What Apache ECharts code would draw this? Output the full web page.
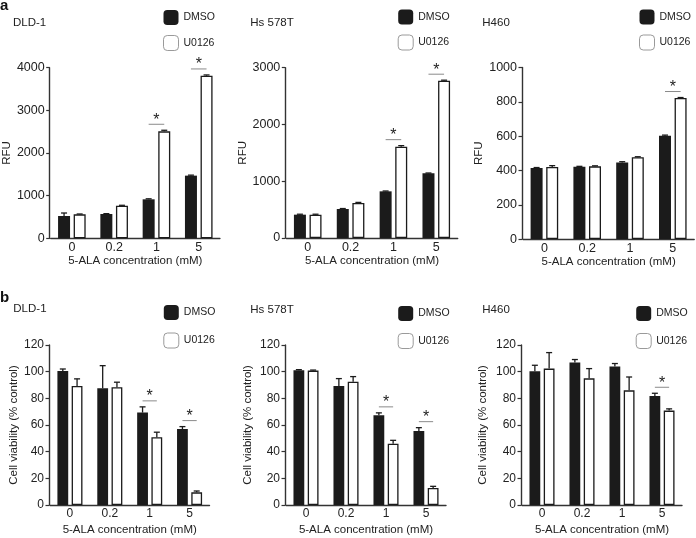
<!DOCTYPE html>
<html>
<head>
<meta charset="utf-8">
<script src="https://cdn.jsdelivr.net/npm/echarts@6/dist/echarts.min.js"></script>
<style>html,body{margin:0;padding:0;background:#fff}#c{width:696px;height:538px}</style>
</head>
<body>
<div id="c"></div>
<script>
// ---------- data ----------
const categories = ['0', '0.2', '1', '5'];
const seriesNames = ['DMSO', 'U0126'];
const cellLines = ['DLD-1', 'Hs 578T', 'H460'];

// panel a: RFU
const rfuDLD1Dmso = [523, 570, 914, 1469];
const rfuDLD1DmsoErr = [70, 8, 12, 12];
const rfuDLD1U0126 = [562, 766, 2508, 3812];
const rfuDLD1U0126Err = [8, 8, 25, 18];
const rfuHsDmso = [411, 511, 822, 1139];
const rfuHsDmsoErr = [8, 8, 6, 6];
const rfuHsU0126 = [411, 617, 1609, 2772];
const rfuHsU0126Err = [8, 10, 18, 8];
const rfuH460Dmso = [414, 422, 447, 602];
const rfuH460DmsoErr = [3, 2, 4, 4];
const rfuH460U0126 = [420, 424, 477, 822];
const rfuH460U0126Err = [8, 3, 3, 3];

// panel b: cell viability (% control)
const viaDLD1Dmso = [100.5, 87.5, 69.3, 57];
const viaDLD1DmsoErr = [1.5, 17, 4.3, 1.8];
const viaDLD1U0126 = [89.3, 88.3, 50.8, 9.5];
const viaDLD1U0126Err = [5.3, 3.8, 3.8, 1];
const viaHsDmso = [101, 89.3, 67.3, 55.5];
const viaHsDmsoErr = [0.5, 5.5, 1.8, 2.5];
const viaHsU0126 = [100.8, 92.5, 46, 12.8];
const viaHsU0126Err = [0.4, 3.8, 2.5, 1.2];
const viaH460Dmso = [100.3, 106.8, 103.8, 81.8];
const viaH460DmsoErr = [4.5, 2.3, 2.3, 2];
const viaH460U0126 = [102.3, 95, 86, 70.8];
const viaH460U0126Err = [12, 7.3, 10, 1.3];

// significant comparisons (category indices)
const sigDLD1A = [2, 3], sigHsA = [2, 3], sigH460A = [3];
const sigDLD1B = [2, 3], sigHsB = [2, 3], sigH460B = [3];

// axis ticks
const rfuTicksDLD1 = { max: 4000, interval: 1000 };
const rfuTicksHs = { max: 3000, interval: 1000 };
const rfuTicksH460 = { max: 1000, interval: 200 };
const viaTicks = { max: 120, interval: 20 };

// ---------- layout ----------
const FONT = '"Liberation Sans", Arial, Helvetica, sans-serif';
const TXT = '#222';
const BAR = '#1b1b1b';

const panels = [
  { name: cellLines[0], d: rfuDLD1Dmso, de: rfuDLD1DmsoErr, u: rfuDLD1U0126, ue: rfuDLD1U0126Err, sig: sigDLD1A, ticks: rfuTicksDLD1, yName: 'RFU', yNameGap: 36,
    grid: { left: 48.3, top: 67.7, width: 171.6, height: 170.6 }, legend: [163, 10], legendGap: 10, title: [13, 16.5], row: 0 },
  { name: cellLines[1], d: rfuHsDmso, de: rfuHsDmsoErr, u: rfuHsU0126, ue: rfuHsU0126Err, sig: sigHsA, ticks: rfuTicksHs, yName: 'RFU', yNameGap: 36,
    grid: { left: 286.3, top: 67.7, width: 171.4, height: 170.3 }, legend: [397.7, 9.5], legendGap: 10, title: [250.3, 16.5], row: 0 },
  { name: cellLines[2], d: rfuH460Dmso, de: rfuH460DmsoErr, u: rfuH460U0126, ue: rfuH460U0126Err, sig: sigH460A, ticks: rfuTicksH460, yName: 'RFU', yNameGap: 36,
    grid: { left: 523, top: 67.5, width: 171.2, height: 171.6 }, legend: [639, 9.5], legendGap: 10, title: [482.3, 16.5], row: 0 },
  { name: cellLines[0], d: viaDLD1Dmso, de: viaDLD1DmsoErr, u: viaDLD1U0126, ue: viaDLD1U0126Err, sig: sigDLD1B, ticks: viaTicks, yName: 'Cell viability (% control)', yNameGap: 28,
    grid: { left: 50, top: 345, width: 159.5, height: 160 }, legend: [163.3, 305], legendGap: 12.5, title: [13.3, 303], row: 1 },
  { name: cellLines[1], d: viaHsDmso, de: viaHsDmsoErr, u: viaHsU0126, ue: viaHsU0126Err, sig: sigHsB, ticks: viaTicks, yName: 'Cell viability (% control)', yNameGap: 31,
    grid: { left: 286, top: 345, width: 160, height: 160 }, legend: [397.7, 306], legendGap: 12, title: [250.3, 304], row: 1 },
  { name: cellLines[2], d: viaH460Dmso, de: viaH460DmsoErr, u: viaH460U0126, ue: viaH460U0126Err, sig: sigH460B, ticks: viaTicks, yName: 'Cell viability (% control)', yNameGap: 32.5,
    grid: { left: 522, top: 345, width: 160, height: 160 }, legend: [635.7, 306], legendGap: 12, title: [482.3, 304], row: 1 }
];

const rowStyle = [
  { barWidth: 12, gapRatio: 0.3, xNameGap: 13.5, tickFont: 12.5, nameFont: 11.5 },
  { barWidth: 10.8, gapRatio: 0.32, xNameGap: 18.5, tickFont: 12, nameFont: 11.5 }
];

const option = {
  animation: false,
  backgroundColor: '#fff',
  textStyle: { fontFamily: FONT },
  title: [],
  legend: [],
  grid: [],
  xAxis: [],
  yAxis: [],
  series: []
};

option.title.push({ text: 'a', left: 0, top: -2, padding: 0, textStyle: { fontFamily: FONT, fontSize: 15, fontWeight: 'bold', color: '#111' } });
option.title.push({ text: 'b', left: 0, top: 290, padding: 0, textStyle: { fontFamily: FONT, fontSize: 15, fontWeight: 'bold', color: '#111' } });

panels.forEach((p, i) => {
  const rs = rowStyle[p.row];
  const off = rs.barWidth * (1 + rs.gapRatio) / 2;
  option.grid.push(Object.assign({ containLabel: false }, p.grid));
  option.title.push({ text: p.name, left: p.title[0], top: p.title[1], padding: 0,
    textStyle: { fontFamily: FONT, fontSize: 11.5, fontWeight: 'normal', color: TXT } });
  option.legend.push({
    left: p.legend[0], top: p.legend[1], orient: 'vertical', padding: 0,
    itemWidth: 15, itemHeight: 15, itemGap: p.legendGap, selectedMode: false,
    textStyle: { fontFamily: FONT, fontSize: 10.5, color: TXT },
    data: [
      { name: seriesNames[0], icon: 'roundRect', itemStyle: { color: BAR, borderWidth: 0 } },
      { name: seriesNames[1], icon: 'roundRect', itemStyle: { color: '#fff', borderColor: '#9a9a9a', borderWidth: 1 } }
    ]
  });
  option.xAxis.push({
    type: 'category', gridIndex: i, data: categories,
    name: '5-ALA concentration (mM)', nameLocation: 'middle', nameGap: rs.xNameGap,
    nameTextStyle: { fontFamily: FONT, fontSize: rs.nameFont, color: TXT },
    axisLine: { lineStyle: { color: '#333', width: 1.4 } },
    axisTick: { show: false },
    axisLabel: { fontFamily: FONT, fontSize: rs.tickFont, color: TXT, margin: 3 },
    splitLine: { show: false }
  });
  option.yAxis.push({
    type: 'value', gridIndex: i, min: 0, max: p.ticks.max, interval: p.ticks.interval, offset: 1,
    name: p.yName, nameLocation: 'middle', nameRotate: 90, nameGap: p.yNameGap,
    nameTextStyle: { fontFamily: FONT, fontSize: rs.nameFont, color: TXT },
    axisLine: { show: true, lineStyle: { color: '#333', width: 1.4 } },
    axisTick: { show: true, length: 3.5, lineStyle: { color: '#333', width: 1.2 } },
    axisLabel: { fontFamily: FONT, fontSize: rs.tickFont, color: TXT, margin: 5, formatter: v => String(v) },
    splitLine: { show: false }
  });
  option.series.push({
    type: 'bar', name: seriesNames[0], xAxisIndex: i, yAxisIndex: i, data: p.d,
    barWidth: rs.barWidth, itemStyle: { color: BAR }
  });
  option.series.push({
    type: 'bar', name: seriesNames[1], xAxisIndex: i, yAxisIndex: i, data: p.u,
    barWidth: rs.barWidth, barGap: (rs.gapRatio * 100) + '%',
    itemStyle: { color: '#fff', borderColor: BAR, borderWidth: 1.3 }
  });
  // error bars
  const errData = [];
  p.d.forEach((v, k) => errData.push([k, v, p.de[k], -1]));
  p.u.forEach((v, k) => errData.push([k, v, p.ue[k], 1]));
  option.series.push({
    type: 'custom', xAxisIndex: i, yAxisIndex: i, z: 4, silent: true,
    encode: { x: 0, y: 1 },
    data: errData,
    renderItem: function (params, api) {
      const c = api.value(0), v = api.value(1), e = api.value(2), s = api.value(3);
      const b = api.coord([c, v]);
      const t = api.coord([c, v + e]);
      const x = b[0] + s * off;
      const st = { stroke: BAR, lineWidth: 1.3 };
      return { type: 'group', children: [
        { type: 'line', shape: { x1: x, y1: b[1], x2: x, y2: t[1] }, style: st },
        { type: 'line', shape: { x1: x - 3, y1: t[1], x2: x + 3, y2: t[1] }, style: st }
      ] };
    }
  });
  // significance brackets
  const sigData = p.sig.map(k => [k, Math.max(p.d[k] + p.de[k], p.u[k] + p.ue[k])]);
  option.series.push({
    type: 'custom', xAxisIndex: i, yAxisIndex: i, z: 5, silent: true,
    encode: { x: 0, y: 1 },
    data: sigData,
    renderItem: function (params, api) {
      const pt = api.coord([api.value(0), api.value(1)]);
      const y = pt[1] - 6;
      return { type: 'group', children: [
        { type: 'line', shape: { x1: pt[0] - off, y1: y, x2: pt[0] + off, y2: y }, style: { stroke: '#8a8a8a', lineWidth: 1 } },
        { type: 'text', x: pt[0], y: y - 4, style: { text: '*', fontFamily: FONT, fontSize: 16, fill: '#222', align: 'center', verticalAlign: 'middle' } }
      ] };
    }
  });
});

const chart = echarts.init(document.getElementById('c'), null, { renderer: 'canvas' });
chart.setOption(option);
</script>
</body>
</html>
